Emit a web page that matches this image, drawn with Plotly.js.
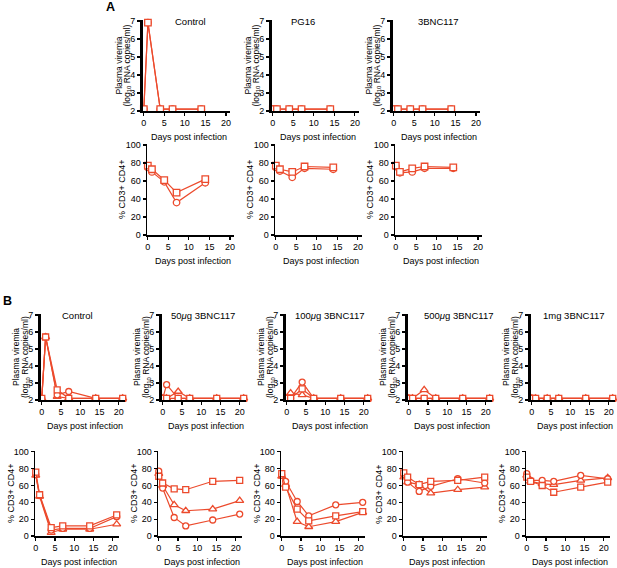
<!DOCTYPE html>
<html>
<head>
<meta charset="utf-8">
<script src="https://cdn.plot.ly/plotly-3.0.1.min.js"></script>
<style>html,body{margin:0;padding:0;background:#fff}#chart{width:617px;height:568px}</style>
</head>
<body>
<div id="chart"></div>
<script>
// ---------- Panel A ----------
const daysA = [0, 1, 4, 7, 14];
const titlesA = ['Control', 'PG16', '3BNC117'];
const vlA_square = [
  [2.1, 6.9, 2.1, 2.1, 2.1],
  [2.1, 2.1, 2.1, 2.1, 2.1],
  [2.1, 2.1, 2.1, 2.1, 2.1]
];
const vlA_circle = [
  [2.1, 6.9, 2.1, 2.1, 2.1],
  [2.1, 2.1, 2.1, 2.1, 2.1],
  [2.1, 2.1, 2.1, 2.1, 2.1]
];
const cd4A_square = [
  [77, 73, 61, 47, 62],
  [77, 73, 70, 76, 75],
  [77, 70, 74, 76, 75]
];
const cd4A_circle = [
  [75, 70, 59, 36, 58],
  [75, 71, 64, 74, 73],
  [76, 69, 70, 74, 74]
];

// ---------- Panel B ----------
const daysB = [0, 1, 4, 7, 14, 21];
const titlesB = ['Control', '50<i>μ</i>g 3BNC117', '100<i>μ</i>g 3BNC117', '500<i>μ</i>g 3BNC117', '1mg 3BNC117'];
const vlB_circle = [
  [2.1, 5.7, 2.3, 2.5, 2.1, 2.1],
  [2.1, 2.9, 2.1, 2.1, 2.1, 2.1],
  [2.1, 2.1, 3.05, 2.1, 2.1, 2.1],
  [2.1, 2.1, 2.1, 2.1, 2.1, 2.1],
  [2.1, 2.1, 2.1, 2.1, 2.1, 2.1]
];
const vlB_square = [
  [2.1, 5.7, 2.6, 2.1, 2.1, 2.1],
  [2.1, 2.1, 2.1, 2.1, 2.1, 2.1],
  [2.1, 2.1, 2.65, 2.1, 2.1, 2.1],
  [2.1, 2.1, 2.1, 2.1, 2.1, 2.1],
  [2.1, 2.1, 2.1, 2.1, 2.1, 2.1]
];
const vlB_triangle = [
  [2.1, 5.7, 2.2, 2.1, 2.1, 2.1],
  [2.1, 2.1, 2.5, 2.1, 2.1, 2.1],
  [2.1, 2.4, 2.3, 2.1, 2.1, 2.1],
  [2.1, 2.1, 2.6, 2.1, 2.1, 2.1],
  [2.1, 2.1, 2.1, 2.1, 2.1, 2.1]
];
const cd4B_circle = [
  [73, 48, 7, 9, 9, 23],
  [77, 57, 22, 12, 19, 26],
  [72, 65, 41, 24, 37, 40],
  [73, 64, 53, 59, 68, 63],
  [74, 66, 66, 65, 72, 68]
];
const cd4B_square = [
  [76, 49, 10, 12, 12, 25],
  [71, 63, 56, 55, 65, 66],
  [74, 58, 32, 18, 24, 29],
  [75, 70, 61, 65, 66, 70],
  [70, 65, 60, 52, 58, 64]
];
const cd4B_triangle = [
  [72, 47, 4, 8, 8, 14],
  [74, 60, 37, 30, 32, 42],
  [71, 61, 17, 11, 17, 28],
  [70, 64, 61, 51, 55, 58],
  [72, 65, 62, 61, 66, 69]
];

const xTicks = [0, 5, 10, 15, 20];
const vlTicks = [2, 3, 4, 5, 6, 7];
const cd4Ticks = [0, 20, 40, 60, 80, 100];
const vlTitle1 = 'Plasma viremia';
const vlTitle2 = '(log<sub>10</sub> RNA copies/ml)';
const cd4Title = '% CD3+ CD4+';
const daysTitle = 'Days post infection';

// ---------- geometry (pixels) ----------
const W = 617, H = 568;
const RED = '#ec4a2c';
const FONT = 'Liberation Sans, Arial, sans-serif';
const px = v => v / W;
const py = v => 1 - v / H;

const boxesA1 = [[143, 230], [272, 359], [393, 480]];
const boxesA2 = [[147, 234], [275, 362], [395, 482]];
const boxesB1 = [[41, 125], [162, 246], [286, 370], [408, 492], [531, 615]];
const boxesB2 = [[35, 119], [158, 242], [281, 365], [403, 487], [526, 610]];
const yA1 = [20, 111], yA2 = [144, 235], yB1 = [314, 400], yB2 = [451, 536];

const data = [];
const layout = {
  width: W, height: H,
  margin: {l: 0, r: 0, t: 0, b: 0},
  paper_bgcolor: '#fff', plot_bgcolor: '#fff',
  showlegend: false,
  font: {family: FONT, color: '#000', size: 9},
  annotations: []
};
let k = 0;

function note(x, y, text, size, angle) {
  const a = {
    xref: 'paper', yref: 'paper', x: px(x), y: py(y), text: text, showarrow: false,
    xanchor: 'center', yanchor: 'middle', font: {size: size, family: FONT, color: '#000'}
  };
  if (angle) a.textangle = angle;
  layout.annotations.push(a);
}

function addPanel(xb, yb, xr, kind, series, days, msize) {
  k += 1;
  const xn = k === 1 ? 'xaxis' : 'xaxis' + k;
  const yn = k === 1 ? 'yaxis' : 'yaxis' + k;
  const xr_ = k === 1 ? 'x' : 'x' + k;
  const yr_ = k === 1 ? 'y' : 'y' + k;
  const vl = kind === 'vl';
  layout[xn] = {
    domain: [px(xb[0]), px(xb[1])], anchor: yr_, range: xr,
    tickvals: xTicks, ticks: 'outside', ticklen: 3, tickwidth: 1.2, tickcolor: '#000',
    showline: true, linecolor: '#000', linewidth: 1.5,
    showgrid: false, zeroline: false, tickfont: {size: 9, family: FONT}
  };
  layout[yn] = {
    domain: [py(yb[1]), py(yb[0])], anchor: xr_,
    range: vl ? [2, 7.05] : [0, 101],
    tickvals: vl ? vlTicks : cd4Ticks, ticks: 'outside', ticklen: 3,
    tickwidth: vl ? 2 : 1.2, tickcolor: '#000',
    showline: true, linecolor: '#000', linewidth: vl ? 3 : 1.5,
    showgrid: false, zeroline: false, tickfont: {size: 9, family: FONT}
  };
  series.forEach(s => {
    data.push({
      type: 'scatter', mode: 'lines+markers', x: days, y: s.y,
      xaxis: xr_, yaxis: yr_, cliponaxis: false,
      line: {color: RED, width: 1.2},
      marker: {symbol: s.sym, size: s.sym === 'triangle-up' ? msize + 1 : msize, color: '#fff', line: {color: RED, width: 1.3}},
      hoverinfo: 'skip'
    });
  });
  const cx = (xb[0] + xb[1]) / 2;
  note(cx + 2, yb[1] + 25.5, daysTitle, 9);
  const cy = (yb[0] + yb[1]) / 2;
  if (vl) {
    note(xb[0] - 25, cy, vlTitle1, 8.5, -90);
    note(xb[0] - 16, cy, vlTitle2, 8.5, -90);
  } else {
    note(xb[0] - 24.5, cy, cd4Title, 9, -90);
  }
}

const sq = 'square', ci = 'circle', tr = 'triangle-up';
for (let i = 0; i < 3; i++) {
  addPanel(boxesA1[i], yA1, [-0.2, 21], 'vl',
    [{y: vlA_circle[i], sym: ci}, {y: vlA_square[i], sym: sq}], daysA, 6.5);
}
for (let i = 0; i < 3; i++) {
  addPanel(boxesA2[i], yA2, [-0.2, 21], 'cd4',
    [{y: cd4A_circle[i], sym: ci}, {y: cd4A_square[i], sym: sq}], daysA, 6.5);
}
for (let i = 0; i < 5; i++) {
  addPanel(boxesB1[i], yB1, [-0.2, 21.6], 'vl',
    [{y: vlB_triangle[i], sym: tr}, {y: vlB_circle[i], sym: ci}, {y: vlB_square[i], sym: sq}], daysB, 6);
}
for (let i = 0; i < 5; i++) {
  addPanel(boxesB2[i], yB2, [-0.2, 21.6], 'cd4',
    [{y: cd4B_triangle[i], sym: tr}, {y: cd4B_circle[i], sym: ci}, {y: cd4B_square[i], sym: sq}], daysB, 6);
}

// subplot titles
const titlePosA = [190, 303, 439];
titlesA.forEach((t, i) => note(titlePosA[i], 21, t, 9.5));
const titlePosB = [78, 203, 330, 459, 574];
titlesB.forEach((t, i) => note(titlePosB[i], 315, t, 9.5));
// panel letters
note(110, 7, '<b>A</b>', 12.5);
note(7, 301, '<b>B</b>', 12.5);

Plotly.newPlot('chart', data, layout, {staticPlot: true, displayModeBar: false});
</script>
</body>
</html>
